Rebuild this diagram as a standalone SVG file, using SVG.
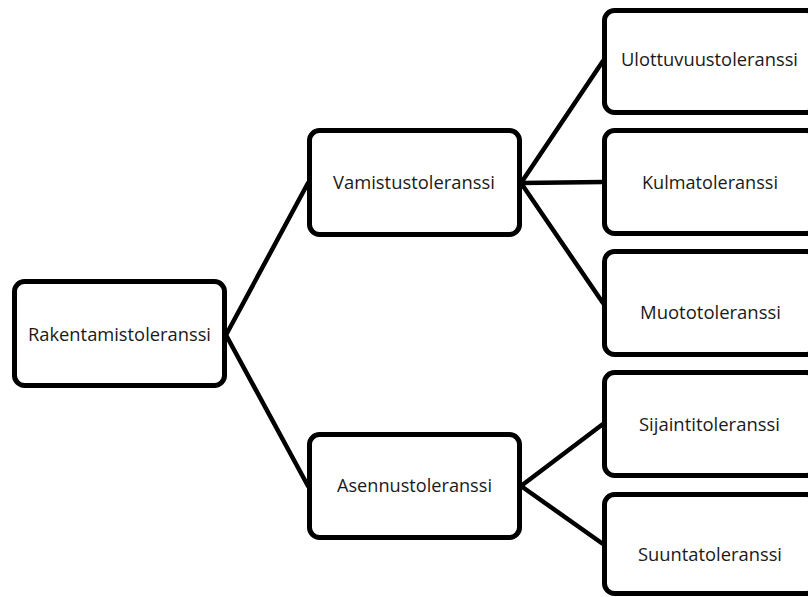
<svg xmlns="http://www.w3.org/2000/svg" width="808" height="597" viewBox="0 0 808 597">
<style>
.box{fill:#fff;stroke:#000;stroke-width:5}
.lbl{font-family:"Open Sans","Liberation Sans",sans-serif;font-size:18px;fill:#1a1a1a;text-anchor:middle}
.con{stroke:#000;stroke-width:4.5;fill:none;stroke-linecap:round}
</style>
<rect width="808" height="597" fill="#fff"/>
<g id="connectors">
<line class="con" x1="226" y1="335" x2="308" y2="183"/>
<line class="con" x1="226" y1="335" x2="308" y2="486"/>
<line class="con" x1="521" y1="183" x2="603" y2="61"/>
<line class="con" x1="521" y1="183" x2="603" y2="182"/>
<line class="con" x1="521" y1="183" x2="603" y2="303"/>
<line class="con" x1="521" y1="486" x2="603" y2="424"/>
<line class="con" x1="521" y1="486" x2="603" y2="544"/>
</g>
<g id="rakentamistoleranssi">
<rect class="box" x="14.5" y="281.5" width="210" height="104" rx="10"/>
<text class="lbl" x="119.5" y="341" textLength="183" lengthAdjust="spacingAndGlyphs">Rakentamistoleranssi</text>
</g>
<g id="vamistustoleranssi">
<rect class="box" x="309.5" y="130.5" width="210" height="104" rx="10"/>
<text class="lbl" x="414" y="189" textLength="162" lengthAdjust="spacingAndGlyphs">Vamistustoleranssi</text>
</g>
<g id="asennustoleranssi">
<rect class="box" x="309.5" y="434.5" width="210" height="103" rx="10"/>
<text class="lbl" x="414.5" y="492" textLength="155" lengthAdjust="spacingAndGlyphs">Asennustoleranssi</text>
</g>
<g id="ulottuvuustoleranssi">
<rect class="box" x="604.5" y="10.5" width="212" height="102" rx="10"/>
<text class="lbl" x="709.5" y="66" textLength="177" lengthAdjust="spacingAndGlyphs">Ulottuvuustoleranssi</text>
</g>
<g id="kulmatoleranssi">
<rect class="box" x="604.5" y="130.5" width="212" height="103" rx="10"/>
<text class="lbl" x="710" y="189" textLength="136" lengthAdjust="spacingAndGlyphs">Kulmatoleranssi</text>
</g>
<g id="muototoleranssi">
<rect class="box" x="604.5" y="251.5" width="212" height="103" rx="10"/>
<text class="lbl" x="710.5" y="319" textLength="141" lengthAdjust="spacingAndGlyphs">Muototoleranssi</text>
</g>
<g id="sijaintitoleranssi">
<rect class="box" x="604.5" y="372.5" width="212" height="103" rx="10"/>
<text class="lbl" x="709.5" y="431" textLength="141" lengthAdjust="spacingAndGlyphs">Sijaintitoleranssi</text>
</g>
<g id="suuntatoleranssi">
<rect class="box" x="604.5" y="494.5" width="212" height="99" rx="10"/>
<text class="lbl" x="710" y="561" textLength="144" lengthAdjust="spacingAndGlyphs">Suuntatoleranssi</text>
</g>
</svg>
